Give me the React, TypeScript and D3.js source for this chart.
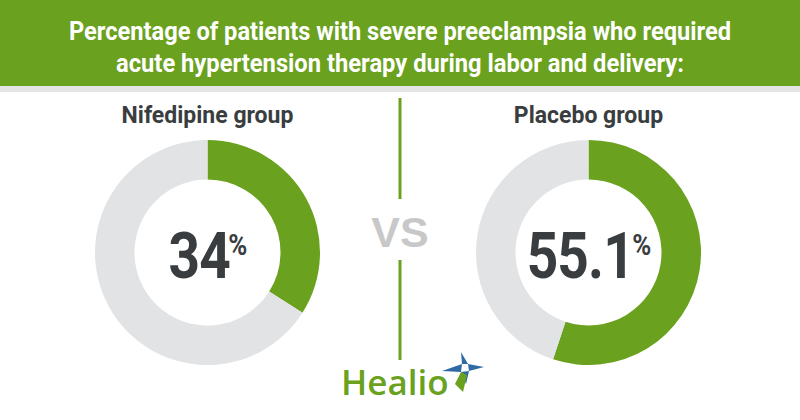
import React from "react";
import * as d3 from "d3";

const TITLE_LINES = [
  "Percentage of patients with severe preeclampsia who required",
  "acute hypertension therapy during labor and delivery:",
];
const GROUPS = ["Nifedipine group", "Placebo group"];
const VALUES = [34, 55.1];
const VALUE_LABELS = ["34", "55.1"];

const W = 800;
const H = 420;
const GREEN = "#6aa11e";
const RING = "#e2e3e5";
const DARK = "#3a3d40";

export default function App() {
  const x = d3.scalePoint<string>().domain(GROUPS).range([207.5, 588.5]);
  const cy = 252.5;
  const arc = d3.arc<d3.PieArcDatum<number>>().innerRadius(73).outerRadius(112.5);
  const pie = d3.pie<number>().sort(null).value((d) => d);

  return (
    <svg width={W} height={H} style={{ display: "block", position: "absolute", left: 0, top: 0 }}>
      <rect x={0} y={0} width={W} height={H} fill="#ffffff" />
      <rect x={0} y={0} width={W} height={86} fill={GREEN} />
      <rect x={0} y={86} width={W} height={6} fill="#e4e4e4" />
      {TITLE_LINES.map((t, i) => (
        <text
          key={i}
          x={W / 2}
          y={40 + i * 32}
          textAnchor="middle"
          fill="#ffffff"
          fontFamily="Roboto"
          fontWeight={700}
          fontSize={26}
          textLength={i === 0 ? 662 : 568}
          lengthAdjust="spacingAndGlyphs"
        >
          {t}
        </text>
      ))}

      {GROUPS.map((g, i) => {
        const cx = x(g) as number;
        const arcs = pie([VALUES[i], 100 - VALUES[i]]);
        return (
          <g key={g}>
            <text
              x={cx}
              y={123}
              textAnchor="middle"
              fill={DARK}
              fontFamily="Roboto"
              fontWeight={700}
              fontSize={23}
            >
              {g}
            </text>
            <g transform={`translate(${cx},${cy})`}>
              {arcs.map((a, j) => (
                <path key={j} d={arc(a) || ""} fill={j === 0 ? GREEN : RING} />
              ))}
              <g transform="scale(0.86,1)">
                <text
                  x={0}
                  y={25}
                  textAnchor="middle"
                  fill={DARK}
                  fontFamily="Roboto"
                  fontWeight={700}
                  fontSize={64}
                  letterSpacing={-1}
                >
                  {VALUE_LABELS[i]}
                  <tspan fontSize={30} dx={-2} dy={-23}>%</tspan>
                </text>
              </g>
            </g>
          </g>
        );
      })}

      <line x1={400} x2={400} y1={98} y2={199} stroke={GREEN} strokeWidth={3} />
      <text
        x={400}
        y={247}
        textAnchor="middle"
        fill="#c8c8c8"
        fontFamily="Liberation Sans"
        fontWeight={700}
        fontSize={43}
      >
        VS
      </text>
      <line x1={400} x2={400} y1={260} y2={360} stroke={GREEN} strokeWidth={3} />

      <text x={341} y={395} fill={GREEN} fontFamily="Open Sans" fontSize={35} fontWeight={600}>
        Healio
      </text>
      <g transform="translate(5,-2)">
        <path d="M437,373 L457,366 L456,354 L463,366 L479,369 L464,373 L461,386 L456,374 Z" fill="#2f6aa5" />
        <path d="M457,366 L463,366 L464,373 L456,374 Z" fill="#ffffff" />
        <path d="M456,374 L462,377 L458,394 L450,386 Z" fill={GREEN} />
      </g>
    </svg>
  );
}
